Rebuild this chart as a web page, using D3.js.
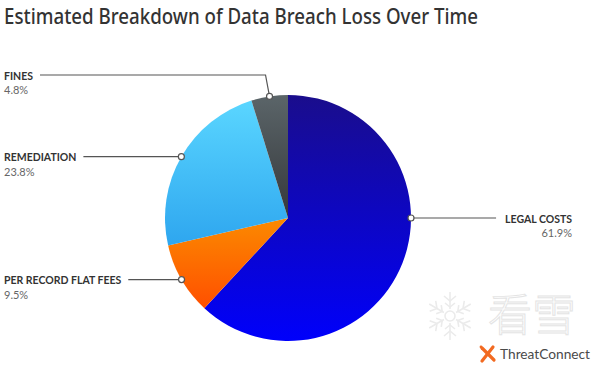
<!DOCTYPE html>
<html>
<head>
<meta charset="utf-8">
<script src="https://cdn.jsdelivr.net/npm/d3@7"></script>
<style>
  html, body { margin: 0; padding: 0; background: #fff; }
  svg { display: block; }
</style>
</head>
<body>
<div id="chart"></div>
<script>
// data
const categories = ["LEGAL COSTS", "PER RECORD FLAT FEES", "REMEDIATION", "FINES"];
const values = [61.9, 9.5, 23.8, 4.8];
const valueLabels = ["61.9%", "9.5%", "23.8%", "4.8%"];
const colorTop = ["#1a0d8c", "#fb8a00", "#5ad6ff", "#5b6569"];
const colorBottom = ["#0000fb", "#ff4f00", "#2ea6ef", "#35383b"];

const width = 598, height = 369;
const cx = 288, cy = 218, radius = 123;

// legal costs label sits at 3 o'clock in the original
const labelAngleOverride = { "LEGAL COSTS": Math.PI / 2 };

const svg = d3.select("#chart")
  .append("svg")
  .attr("width", width)
  .attr("height", height);

const defs = svg.append("defs");

const data = categories.map((c, i) => ({
  name: c, value: values[i], label: valueLabels[i],
  top: colorTop[i], bottom: colorBottom[i], idx: i
}));

data.forEach(d => {
  const g = defs.append("linearGradient")
    .attr("id", "grad" + d.idx)
    .attr("x1", 0).attr("y1", 0).attr("x2", 0).attr("y2", 1);
  g.append("stop").attr("offset", "0%").attr("stop-color", d.top);
  g.append("stop").attr("offset", "100%").attr("stop-color", d.bottom);
});

// title
svg.append("text")
  .attr("x", 4)
  .attr("y", 24)
  .attr("textLength", 474)
  .attr("lengthAdjust", "spacingAndGlyphs")
  .style("font-family", "'Noto Sans', sans-serif")
  .style("font-weight", 500)
  .style("font-size", "21px")
  .style("fill", "#333")
  .text("Estimated Breakdown of Data Breach Loss Over Time");

// watermark
const wm = svg.append("g").attr("transform", "translate(450,316)")
  .attr("stroke", "#ebebeb").attr("stroke-width", 1.6).attr("fill", "none");
d3.range(6).forEach(k => {
  const s = wm.append("g").attr("transform", `rotate(${k * 60})`);
  s.append("line").attr("x1", 0).attr("y1", -7).attr("x2", 0).attr("y2", -24);
  s.append("polyline").attr("points", "-6,-20 0,-15 6,-20");
  s.append("polyline").attr("points", "-5,-13 0,-9 5,-13");
});
wm.append("circle").attr("r", 5);

svg.append("text")
  .attr("x", 488)
  .attr("y", 331)
  .style("font-family", "'Noto Sans CJK SC', sans-serif")
  .style("font-weight", 300)
  .style("font-size", "44px")
  .style("fill", "#fff")
  .style("stroke", "#e4e4e4")
  .style("stroke-width", 1)
  .text("看雪");

const logo = svg.append("g").attr("transform", "translate(488,354)")
  .attr("stroke", "#f26a21").attr("stroke-width", 3.2).attr("stroke-linecap", "round").attr("fill", "none");
logo.append("path").attr("d", "M-6,-6 L6,6");
logo.append("path").attr("d", "M5,-7 L-6,7");
logo.append("circle").attr("cx", -7).attr("cy", -7).attr("r", 1.4).attr("fill", "#f26a21").attr("stroke", "none");

svg.append("text")
  .attr("x", 500)
  .attr("y", 359)
  .attr("textLength", 90)
  .attr("lengthAdjust", "spacingAndGlyphs")
  .style("font-family", "Lato, sans-serif")
  .style("font-size", "13.5px")
  .style("fill", "#4a4a4a")
  .text("ThreatConnect");

// pie
const pie = d3.pie().sort(null).value(d => d.value);
const arc = d3.arc().innerRadius(0).outerRadius(radius);
const arcs = pie(data);

const chart = svg.append("g").attr("transform", `translate(${cx},${cy})`);

chart.selectAll("path")
  .data(arcs)
  .join("path")
  .attr("d", arc)
  .attr("fill", d => `url(#grad${d.data.idx})`);

// labels and leader lines
const labelG = svg.append("g");
const pieTop = cy - radius;

arcs.forEach(a => {
  const ang = labelAngleOverride[a.data.name] ?? (a.startAngle + a.endAngle) / 2;
  const px = cx + radius * Math.sin(ang);
  const py = cy - radius * Math.cos(ang);
  const right = Math.sin(ang) > 0;
  // labels for slices near the top get lifted above the pie
  const ly = py < pieTop + 20 ? pieTop - 20 : py;

  const t = labelG.append("text")
    .attr("x", right ? 572 : 4)
    .attr("y", ly + 4.5)
    .attr("text-anchor", right ? "end" : "start")
    .style("font-family", "Lato, sans-serif")
    .style("font-weight", "bold")
    .style("font-size", "10.5px")
    .style("fill", "#333")
    .text(a.data.name);

  labelG.append("text")
    .attr("x", right ? 572 : 4)
    .attr("y", ly + 19)
    .attr("text-anchor", right ? "end" : "start")
    .style("font-family", "Lato, sans-serif")
    .style("font-size", "11px")
    .style("fill", "#666")
    .text(a.data.label);

  const tw = t.node().getComputedTextLength();
  const ex = right ? 572 - tw - 9 : 4 + tw + 7;
  const pts = ly < py ? [[px, py], [px - 4, ly], [ex, ly]] : [[px, py], [ex, ly]];

  labelG.append("path")
    .attr("d", d3.line()(pts))
    .attr("fill", "none")
    .attr("stroke", "#555")
    .attr("stroke-width", 1.2);

  labelG.append("circle")
    .attr("cx", px)
    .attr("cy", py)
    .attr("r", 3)
    .attr("fill", "#fff")
    .attr("stroke", "#555")
    .attr("stroke-width", 1.2);
});
</script>
</body>
</html>
